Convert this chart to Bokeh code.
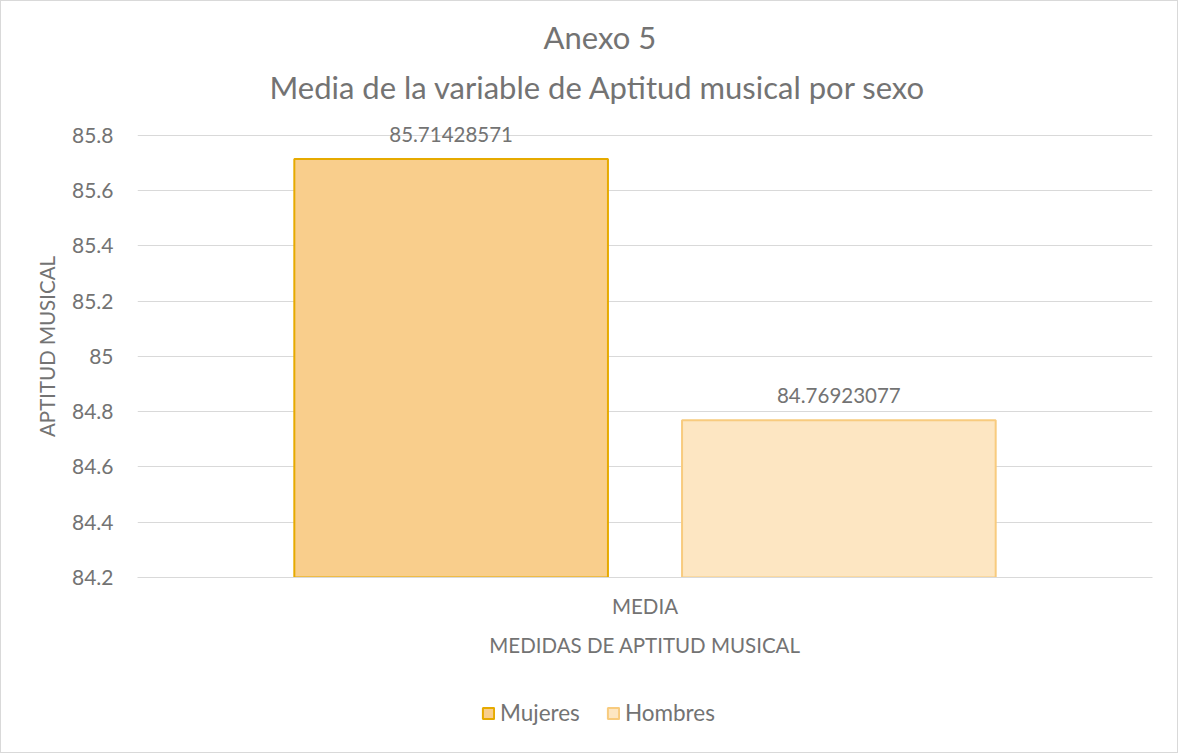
from bokeh.plotting import figure
from bokeh.layouts import column
from bokeh.models import (ColumnDataSource, FactorRange, Range1d, LabelSet, Title,
                          Legend, LegendItem, FixedTicker)
from bokeh.transform import dodge
from bokeh.core.properties import value
from bokeh.embed import file_html
from bokeh.resources import INLINE

# ---- data ----
categories = ["MEDIA"]
series_names = ["Mujeres", "Hombres"]
mujeres = [85.71428571]
hombres = [84.76923077]
y_ticks = [84.2, 84.4, 84.6, 84.8, 85.0, 85.2, 85.4, 85.6, 85.8]
y_tick_labels = ["84.2", "84.4", "84.6", "84.8", "85", "85.2", "85.4", "85.6", "85.8"]
title_lines = ["Anexo 5", "Media de la variable de Aptitud musical por sexo"]
y_axis_title = "APTITUD MUSICAL"
x_axis_title = "MEDIDAS DE APTITUD MUSICAL"
y_min, y_max = 84.2, 85.872   # headroom above the 85.8 gridline for the value label

FONT = "Lato"
GRAY = "#737373"
M_FILL, M_LINE = "#F9CE8C", "#E6AA00"
H_FILL, H_LINE = "#FDE6C2", "#F8CB7E"

W, H1, H2 = 1176, 679, 72
p = figure(width=W, height=H1, x_range=FactorRange(*categories, range_padding=0),
           y_range=Range1d(y_min, y_max), output_backend="svg", toolbar_location=None,
           min_border_left=136, min_border_right=25, min_border_top=114,
           min_border_bottom=H1 - 576)
p.outline_line_color = None
p.background_fill_color = "white"
p.border_fill_color = "white"

src = ColumnDataSource(dict(
    cat=categories,
    mujeres=mujeres,
    hombres=hombres,
    mujeres_txt=[f"{v:.8f}" for v in mujeres],
    hombres_txt=[f"{v:.8f}" for v in hombres],
))

off = 0.191
bw = 0.309
p.vbar(x=dodge("cat", -off, range=p.x_range), top="mujeres", bottom=y_min, width=bw,
       source=src, fill_color=M_FILL, line_color=M_LINE, line_width=2)
p.vbar(x=dodge("cat", off, range=p.x_range), top="hombres", bottom=y_min, width=bw,
       source=src, fill_color=H_FILL, line_color=H_LINE, line_width=2)

for col, o in (("mujeres", -off), ("hombres", off)):
    p.add_layout(LabelSet(x=dodge("cat", o, range=p.x_range), y=col, text=col + "_txt",
                          source=src, text_align="center", text_baseline="middle",
                          y_offset=25, text_font=value(FONT), text_font_size="20.5px",
                          text_color=GRAY))

# axes
p.yaxis.ticker = FixedTicker(ticks=y_ticks)
p.yaxis.major_label_overrides = dict(zip(y_ticks, y_tick_labels))
p.yaxis.axis_line_color = None
p.yaxis.major_tick_line_color = None
p.yaxis.minor_tick_line_color = None
p.yaxis.major_tick_out = 0
p.yaxis.major_label_standoff = 24
p.yaxis.major_label_text_font = FONT
p.yaxis.major_label_text_font_size = "21px"
p.yaxis.major_label_text_color = GRAY
p.yaxis.axis_label = y_axis_title
p.yaxis.axis_label_text_font = FONT
p.yaxis.axis_label_text_font_style = "normal"
p.yaxis.axis_label_text_font_size = "20.5px"
p.yaxis.axis_label_text_color = GRAY
p.yaxis.axis_label_standoff = 10

p.xaxis.axis_line_color = "#D9D9D9"
p.xaxis.axis_line_width = 1
p.xaxis.major_tick_line_color = None
p.xaxis.major_tick_out = 0
p.xaxis.major_label_standoff = 16
p.xaxis.major_label_text_font = FONT
p.xaxis.major_label_text_font_size = "20.5px"
p.xaxis.major_label_text_color = GRAY
p.xaxis.axis_label = x_axis_title
p.xaxis.axis_label_text_font = FONT
p.xaxis.axis_label_text_font_style = "normal"
p.xaxis.axis_label_text_font_size = "20.5px"
p.xaxis.axis_label_text_color = GRAY
p.xaxis.axis_label_standoff = 12

p.xgrid.grid_line_color = None
p.ygrid.grid_line_color = "#D9D9D9"
p.ygrid.grid_line_width = 1

# titles: second line first (closest to the frame), then first line above it
p.add_layout(Title(text=title_lines[1], align="left", offset=132, text_font=FONT,
                   text_font_size="31px", text_font_style="normal", text_color=GRAY,
                   standoff=20), "above")
p.add_layout(Title(text=title_lines[0], align="left", offset=406, text_font=FONT,
                   text_font_size="31px", text_font_style="normal", text_color=GRAY,
                   standoff=0), "above")

# legend strip below the chart (hidden copies of the bars supply the swatches)
q = figure(width=W, height=H2, x_range=p.x_range, y_range=p.y_range,
           output_backend="svg", toolbar_location=None,
           x_axis_location=None, y_axis_location=None,
           min_border_left=0, min_border_right=0, min_border_top=0, min_border_bottom=0)
q.outline_line_color = None
q.grid.visible = False
q.background_fill_color = "white"
q.border_fill_color = "white"
l1 = q.vbar(x=dodge("cat", -off, range=p.x_range), top="mujeres", bottom=y_min, width=bw,
            source=src, fill_color=M_FILL, line_color=M_LINE, line_width=2, visible=False)
l2 = q.vbar(x=dodge("cat", off, range=p.x_range), top="hombres", bottom=y_min, width=bw,
            source=src, fill_color=H_FILL, line_color=H_LINE, line_width=2, visible=False)
legend = Legend(items=[LegendItem(label=series_names[0], renderers=[l1]),
                       LegendItem(label=series_names[1], renderers=[l2])],
                orientation="horizontal", location=(344, 26),
                glyph_width=14, glyph_height=14, spacing=26, padding=0, margin=0,
                label_standoff=5, label_text_font=FONT, label_text_font_size="22.5px",
                label_text_color=GRAY, border_line_color=None, background_fill_alpha=0,
                inactive_fill_alpha=0, click_policy="none")
q.add_layout(legend, "center")

layout = column(p, q, spacing=0, styles={"border": "1px solid #D9D9D9"})
open("out.html", "w").write(file_html(layout, INLINE))
